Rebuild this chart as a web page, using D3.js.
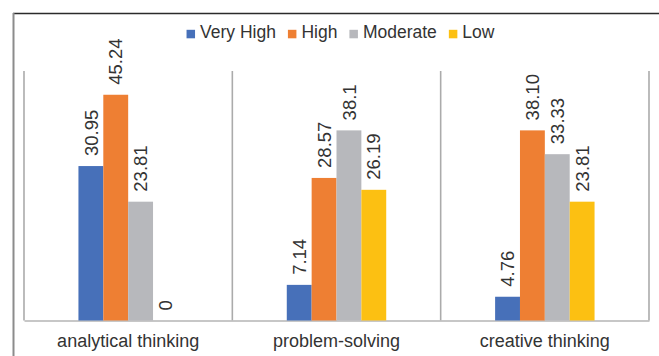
<!DOCTYPE html>
<html>
<head>
<meta charset="utf-8">
<script src="https://cdn.jsdelivr.net/npm/d3@7"></script>
<style>
  html, body { margin: 0; padding: 0; background: #fff; }
  svg { display: block; }
  text { font-family: "Liberation Sans", Arial, Helvetica, sans-serif; }
</style>
</head>
<body>
<svg id="chart" width="659" height="356"></svg>
<script>
// Skill levels (%) per thinking category
const categories = ["analytical thinking", "problem-solving", "creative thinking"];
const seriesNames = ["Very High", "High", "Moderate", "Low"];
const veryHigh = ["30.95", "7.14", "4.76"];
const high     = ["45.24", "28.57", "38.10"];
const moderate = ["23.81", "38.1", "33.33"];
const low      = ["0", "26.19", "23.81"];
const seriesColors = ["#4770b9", "#ee7f33", "#b7b8bc", "#fcc012"];
const yDomain = [0, 50];

const seriesValues = [veryHigh, high, moderate, low];

const svg = d3.select("#chart");
const W = 659, H = 356;
const plot = { left: 24, right: 649, top: 71, bottom: 320.5 };

// Outer chart frame
svg.append("line").attr("x1", 13).attr("x2", W).attr("y1", 13.5).attr("y2", 13.5)
  .attr("stroke", "#2b2b2b").attr("stroke-width", 1.5);
svg.append("line").attr("x1", 13.5).attr("x2", 13.5).attr("y1", 13).attr("y2", H)
  .attr("stroke", "#8c8c8c").attr("stroke-width", 2);

const x0 = d3.scaleBand().domain(categories).range([plot.left, plot.right]).padding(0);
const x1 = d3.scaleBand().domain(seriesNames).range([0, x0.bandwidth()])
  .paddingInner(0).paddingOuter(2.19);
const y = d3.scaleLinear().domain(yDomain).range([plot.bottom, plot.top]);

// Vertical separators between categories
const bounds = categories.map(c => x0(c)).concat([x0(categories[categories.length - 1]) + x0.bandwidth()]);
svg.append("g").selectAll("line").data(bounds).join("line")
  .attr("x1", d => d).attr("x2", d => d)
  .attr("y1", y(yDomain[1])).attr("y2", y(0))
  .attr("stroke", "#ababab").attr("stroke-width", 1.6);

// Category axis
const xAxis = svg.append("g").attr("transform", `translate(0,${y(0)})`)
  .call(d3.axisBottom(x0).tickSize(0).tickPadding(14));
xAxis.select(".domain").attr("stroke", "#b5b5b5").attr("stroke-width", 1.6);
xAxis.selectAll(".tick text")
  .attr("font-size", "18px").attr("fill", "#333")
  .style("font-family", '"Liberation Sans", Arial, sans-serif');

// Bars and rotated value labels
const rows = [];
categories.forEach((c, ci) => {
  seriesNames.forEach((s, si) => {
    const txt = seriesValues[si][ci];
    rows.push({ cat: c, series: s, color: seriesColors[si], label: txt, value: +txt });
  });
});

const g = svg.append("g");
g.selectAll("rect").data(rows).join("rect")
  .attr("x", d => x0(d.cat) + x1(d.series))
  .attr("y", d => y(d.value))
  .attr("width", x1.bandwidth())
  .attr("height", d => y(0) - y(d.value))
  .attr("fill", d => d.color);

g.selectAll("text").data(rows).join("text")
  .attr("transform", d => {
    const cx = x0(d.cat) + x1(d.series) + x1.bandwidth() / 2;
    return `translate(${cx},${y(d.value) - 10}) rotate(-90)`;
  })
  .attr("dy", "0.36em")
  .attr("font-size", "18.5px")
  .attr("fill", "#333")
  .attr("text-anchor", "start")
  .text(d => d.label);

// Legend across the top
const legend = svg.append("g").attr("transform", "translate(0,38.3)");
const items = legend.selectAll("g").data(seriesNames).join("g");
items.append("rect").attr("y", -8.5).attr("width", 8.5).attr("height", 8.5)
  .attr("fill", (d, i) => seriesColors[i]);
items.append("text").attr("x", 13.5).attr("font-size", "17.5px").attr("fill", "#333").text(d => d);
let cursor = 0;
const widths = [];
items.each(function () {
  const w = 13.5 + this.querySelector("text").getComputedTextLength();
  widths.push(w);
});
const gap = 12;
const total = d3.sum(widths) + gap * (widths.length - 1);
const startX = 340.5 - total / 2;
items.attr("transform", (d, i) => {
  const xPos = startX + cursor;
  cursor += widths[i] + gap;
  return `translate(${xPos},0)`;
});
</script>
</body>
</html>
